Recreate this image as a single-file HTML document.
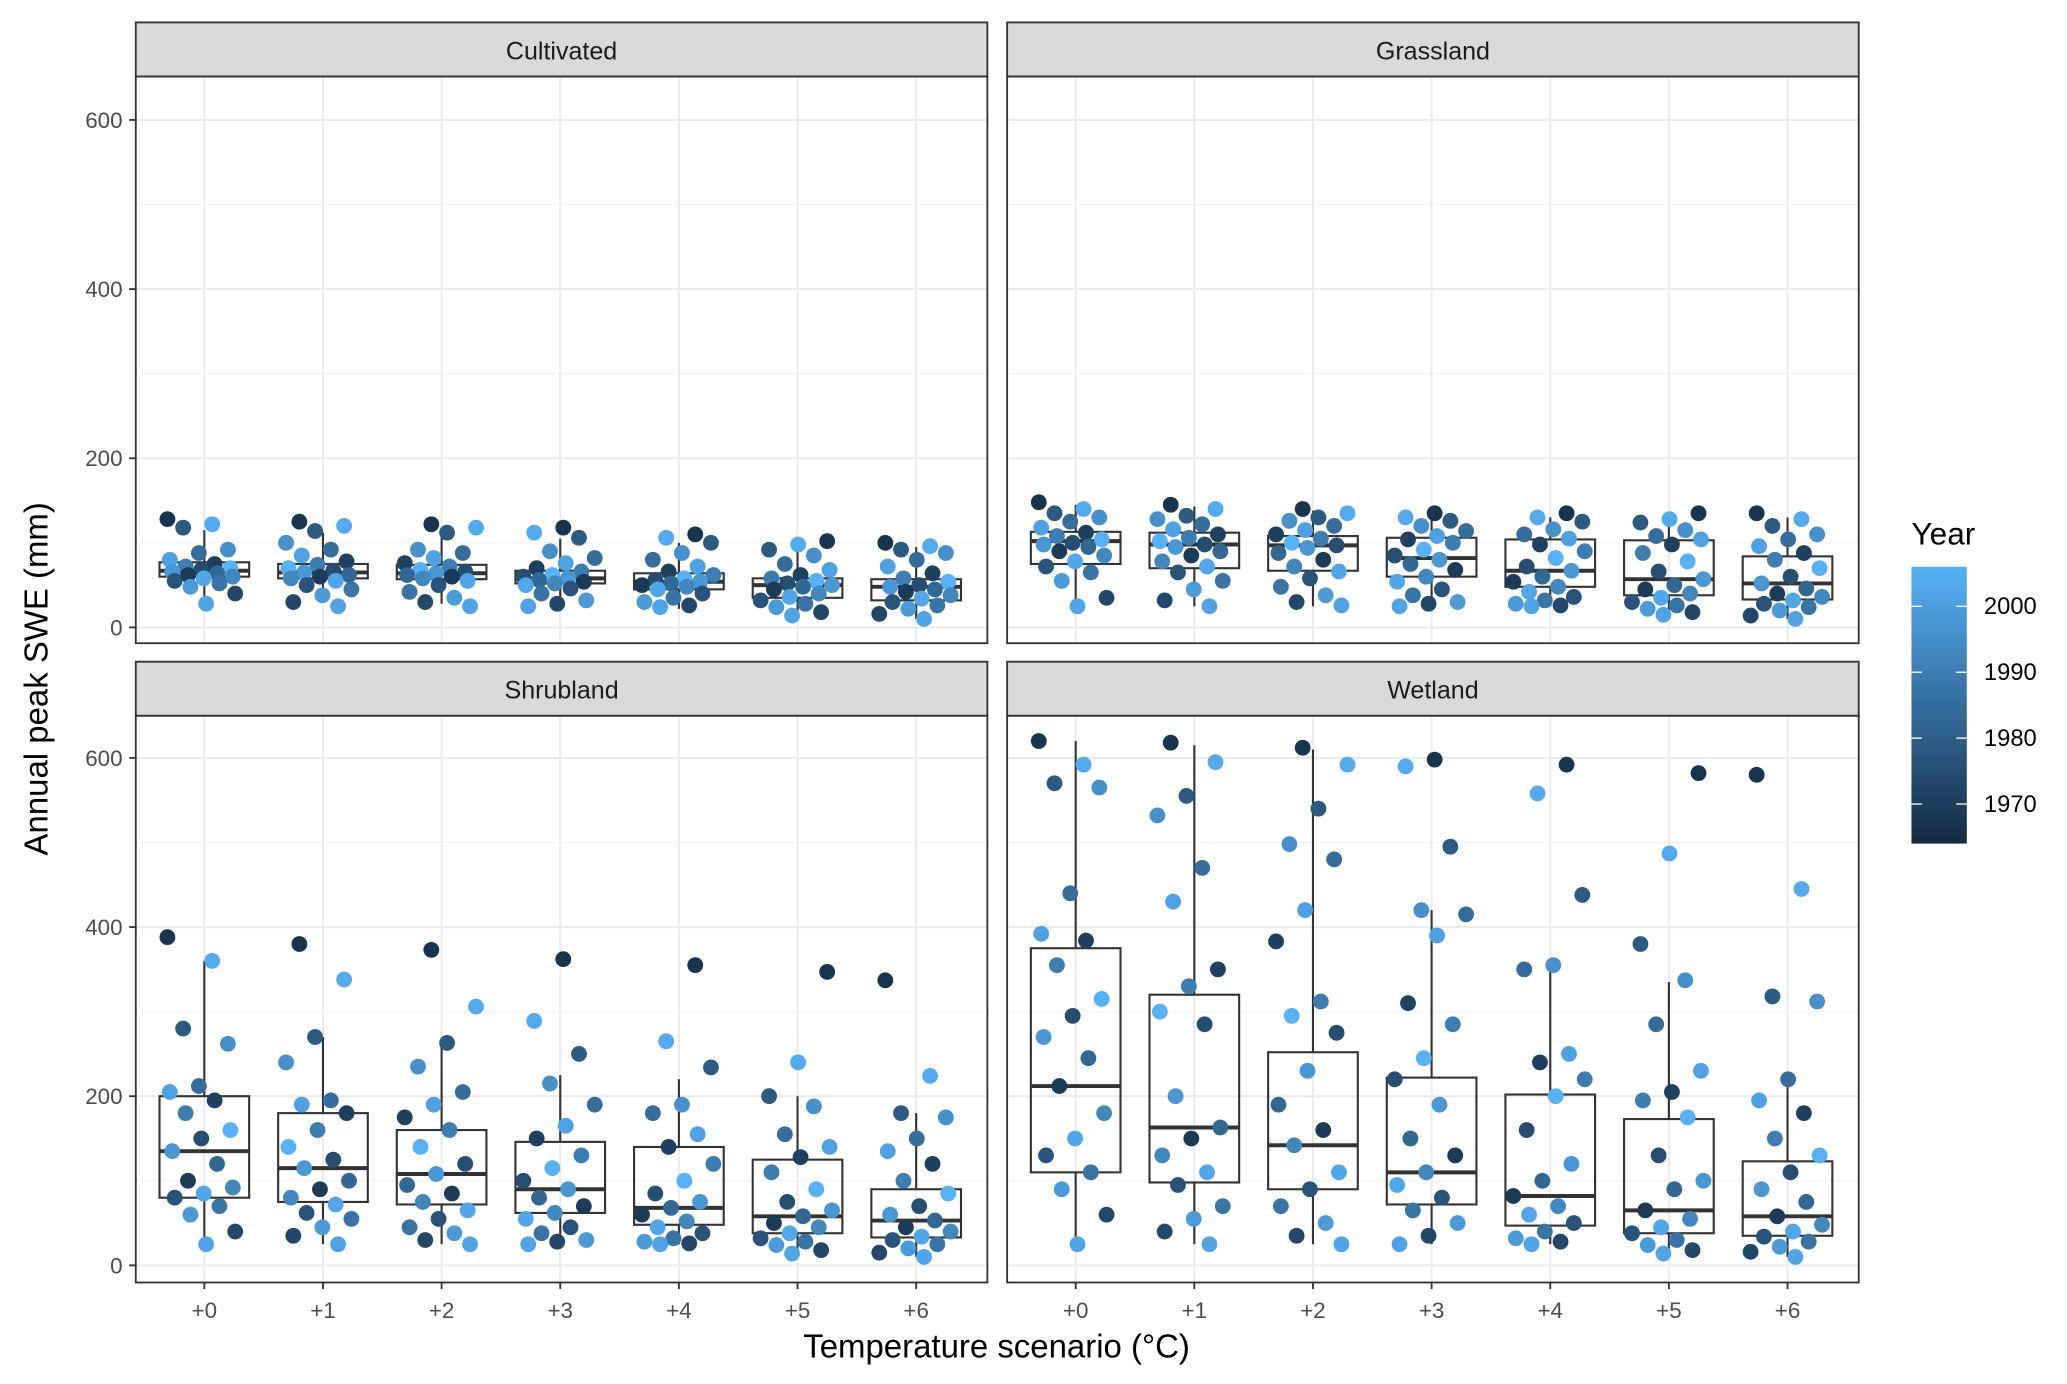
<!DOCTYPE html>
<html><head><meta charset="utf-8"><style>
html,body{margin:0;padding:0;background:#fff}
svg{display:block}
text{font-family:"Liberation Sans",Arial,sans-serif}
</style></head><body>
<svg id="chart" width="2067" height="1384" viewBox="0 0 1568 1050" preserveAspectRatio="none" xmlns="http://www.w3.org/2000/svg"></svg>
<script>
const categories=["+0","+1","+2","+3","+4","+5","+6"];
const panelNames=["Cultivated","Grassland","Shrubland","Wetland"];
const yTicks=[0,200,400,600];
const legendYears=[1970,1980,1990,2000];
// box stats per panel: [lo, q1, median, q3, hi]
const boxCultivated=[[35,60,67,77,115],[30,58,65,75,112],[28,57,64,74,110],[25,52,58,67,105],[22,45,54,64,100],[15,35,50,58,95],[10,32,48,57,95]];
const boxGrassland=[[25,75,102,113,145],[25,70,98,112,143],[25,67,97,108,138],[25,60,82,106,132],[25,48,67,104,130],[15,38,57,103,130],[10,33,52,84,130]];
const boxShrubland=[[25,80,135,200,360],[25,75,115,180,270],[25,72,108,160,260],[25,62,90,146,225],[25,48,68,140,220],[15,38,58,125,200],[10,33,53,90,180]];
const boxWetland=[[25,110,212,375,620],[25,98,163,320,615],[25,90,142,252,610],[25,72,110,222,420],[25,47,82,202,350],[15,38,65,173,335],[10,35,58,123,220]];
// point values (mm) per scenario
const ptsCultivated=[[128,122,118,92,88,80,75,72,70,68,66,64,62,60,58,55,52,48,40,28],[125,120,114,100,92,85,78,74,70,67,65,62,60,58,55,50,45,38,30,25],[122,118,112,92,88,82,76,72,68,66,64,62,60,58,55,50,42,35,30,25],[118,112,106,90,82,76,70,66,62,60,58,56,54,52,50,46,40,32,28,25],[110,106,100,88,80,72,66,62,58,56,54,52,50,48,45,40,35,30,26,24],[102,98,92,85,75,68,62,58,55,52,50,48,45,40,36,32,28,24,18,14],[100,96,92,88,80,72,64,58,54,50,48,45,42,38,34,30,26,22,16,10]];
const ptsGrassland=[[148,140,135,130,125,118,112,108,104,100,98,95,90,85,78,72,65,55,35,25],[145,140,132,128,122,116,110,106,102,98,95,90,85,78,72,65,55,45,32,25],[140,135,130,126,120,115,110,105,100,97,94,88,80,72,66,58,48,38,30,26],[135,130,126,120,114,108,104,100,92,85,80,75,68,60,54,45,38,30,28,25],[135,130,125,116,110,105,98,90,82,72,67,60,54,48,42,36,32,28,26,25],[135,128,124,115,108,104,98,88,78,66,57,50,45,40,35,30,26,22,18,15],[135,128,120,110,104,96,88,80,70,60,52,46,40,36,32,28,24,20,14,10]];
const ptsShrubland=[[388,360,280,262,212,205,195,180,160,150,135,120,100,92,85,80,70,60,40,25],[380,338,270,240,195,190,180,160,140,125,115,100,90,80,72,62,55,45,35,25],[373,306,263,235,205,190,175,160,140,120,108,95,85,75,65,55,45,38,30,25],[362,289,250,215,190,165,150,130,115,100,90,80,70,62,55,45,38,30,28,25],[355,265,234,190,180,155,140,120,100,85,75,68,60,52,45,38,32,28,26,25],[347,240,200,188,155,140,128,110,90,75,65,58,50,45,38,32,28,24,18,14],[337,224,180,175,150,135,120,100,85,70,60,53,45,40,34,30,25,20,15,10]];
const ptsWetland=[[620,592,570,565,440,392,384,355,315,295,270,245,212,180,150,130,110,90,60,25],[618,595,555,532,470,430,350,330,300,285,200,163,150,130,110,95,70,55,40,25],[612,592,540,498,480,420,383,312,295,275,230,190,160,142,110,90,70,50,35,25],[598,590,495,420,415,390,310,285,245,220,190,150,130,110,95,80,65,50,35,25],[592,558,438,355,350,250,240,220,200,160,120,100,82,70,60,50,40,32,28,25],[582,487,380,337,285,230,205,195,175,130,100,90,65,55,45,38,30,24,18,14],[580,445,318,312,220,195,180,150,130,110,90,75,58,48,40,34,28,22,16,10]];
const pointYears=[1967,2004,1979,1996,1985,2001,1971,1990,2006,1975,1998,1983,1969,1993,2003,1977,1987,1999,1973,2002];
const NS="http://www.w3.org/2000/svg";
const svg=document.getElementById('chart');
function mk(tag,attrs,parent){const e=document.createElementNS(NS,tag);for(const k in attrs)e.setAttribute(k,attrs[k]);(parent||svg).appendChild(e);return e;}
function yearColor(y){const t=Math.max(0,Math.min(1,(y-1964)/(2006-1964)));const a=[19,43,67],b=[86,177,247];return `rgb(${a.map((v,i)=>Math.round(v+(b[i]-v)*t)).join(',')})`;}
const panels=[{x0:103,x1:749,top:17,y0:476,box:boxCultivated,pts:ptsCultivated,bottom:false,left:true},
{x0:764,x1:1410,top:17,y0:476,box:boxGrassland,pts:ptsGrassland,bottom:false,left:false},
{x0:103,x1:749,top:502,y0:960,box:boxShrubland,pts:ptsShrubland,bottom:true,left:true},
{x0:764,x1:1410,top:502,y0:960,box:boxWetland,pts:ptsWetland,bottom:true,left:false}];
const pxPer=(476-91)/600;
panels.forEach((p,pi)=>{
  const g=mk('g',{});
  
  
  const plotTop=p.top+41, plotBot=p.top+471;
  const Y=v=>p.y0-v*pxPer;
  const X=i=>p.x0+52+i*90;
  mk('rect',{x:p.x0,y:plotTop,width:p.x1-p.x0,height:plotBot-plotTop,fill:'#fff'},g);
  [100,300,500].forEach(v=>mk('line',{x1:p.x0,x2:p.x1,y1:Y(v),y2:Y(v),stroke:'#F2F2F2','stroke-width':0.8},g));
  yTicks.forEach(v=>mk('line',{x1:p.x0,x2:p.x1,y1:Y(v),y2:Y(v),stroke:'#EBEBEB','stroke-width':1.6},g));
  categories.forEach((c,i)=>mk('line',{x1:X(i),x2:X(i),y1:plotTop,y2:plotBot,stroke:'#EBEBEB','stroke-width':1.6},g));
  p.box.forEach((b,i)=>{
    const bg=mk('g',{},g);
    
    
    mk('line',{x1:X(i),x2:X(i),y1:Y(b[0]),y2:Y(b[1]),stroke:'#333','stroke-width':1.6},bg);
    mk('line',{x1:X(i),x2:X(i),y1:Y(b[3]),y2:Y(b[4]),stroke:'#333','stroke-width':1.6},bg);
    mk('rect',{x:X(i)-34,y:Y(b[3]),width:68,height:Y(b[1])-Y(b[3]),fill:'none',stroke:'#333','stroke-width':1.6},bg);
    mk('line',{x1:X(i)-34,x2:X(i)+34,y1:Y(b[2]),y2:Y(b[2]),stroke:'#333','stroke-width':3},bg);
  });
  p.pts.forEach((arr,i)=>{arr.forEach((v,k)=>{
    const off=((k*37+i*11)%61)/61*56-28;
    const c=mk('circle',{cx:X(i)+off,cy:Y(v),r:6,fill:yearColor(pointYears[k%pointYears.length])},g);
    
    
  });});
  mk('rect',{x:p.x0,y:plotTop,width:p.x1-p.x0,height:plotBot-plotTop,fill:'none',stroke:'#333','stroke-width':1.4},g);
  const st=mk('rect',{x:p.x0,y:p.top,width:p.x1-p.x0,height:41,fill:'#D9D9D9',stroke:'#333','stroke-width':1.4},g);
  
  
  const t=mk('text',{x:(p.x0+p.x1)/2,y:p.top+28,'text-anchor':'middle','font-size':19,fill:'#1A1A1A'},g);
  t.textContent=panelNames[pi];
  if(p.left){yTicks.forEach(v=>{
    mk('line',{x1:p.x0-5,x2:p.x0,y1:Y(v),y2:Y(v),stroke:'#333','stroke-width':1.4},g);
    const tt=mk('text',{x:p.x0-10,y:Y(v)+6,'text-anchor':'end','font-size':17,fill:'#4D4D4D'},g);
    
    
    tt.textContent=v;});}
  if(p.bottom){categories.forEach((c,i)=>{
    mk('line',{x1:X(i),x2:X(i),y1:plotBot,y2:plotBot+5,stroke:'#333','stroke-width':1.4},g);
    const tt=mk('text',{x:X(i),y:plotBot+27,'text-anchor':'middle','font-size':17,fill:'#4D4D4D'},g);
    
    
    tt.textContent=c;});}
});
const xt=mk('text',{x:756,y:1030,'text-anchor':'middle','font-size':25,fill:'#000'});


xt.textContent='Temperature scenario (°C)';
const yt=mk('text',{x:0,y:0,'text-anchor':'middle','font-size':25,fill:'#000',transform:'translate(36,515) rotate(-90)'});


yt.textContent='Annual peak SWE (mm)';
const lg=mk('g',{});


const defs=mk('defs',{});
const grad=mk('linearGradient',{id:'yg',x1:0,y1:1,x2:0,y2:0},defs);
mk('stop',{offset:'0','stop-color':yearColor(1964)},grad);
mk('stop',{offset:'1','stop-color':yearColor(2006)},grad);
const lt=mk('text',{x:1450,y:413,'font-size':24,fill:'#000'},lg);lt.textContent='Year';
mk('rect',{x:1450,y:430,width:42,height:210,fill:'url(#yg)'},lg);
const LY=y=>640-(y-1964)/(2006-1964)*210;
legendYears.forEach(y=>{
  mk('line',{x1:1450,x2:1458,y1:LY(y),y2:LY(y),stroke:'#fff','stroke-width':1},lg);
  mk('line',{x1:1484,x2:1492,y1:LY(y),y2:LY(y),stroke:'#fff','stroke-width':1},lg);
  const tt=mk('text',{x:1505,y:LY(y)+6,'font-size':18,fill:'#000'},lg);
  
  
  tt.textContent=y;
});
</script>
</body></html>
